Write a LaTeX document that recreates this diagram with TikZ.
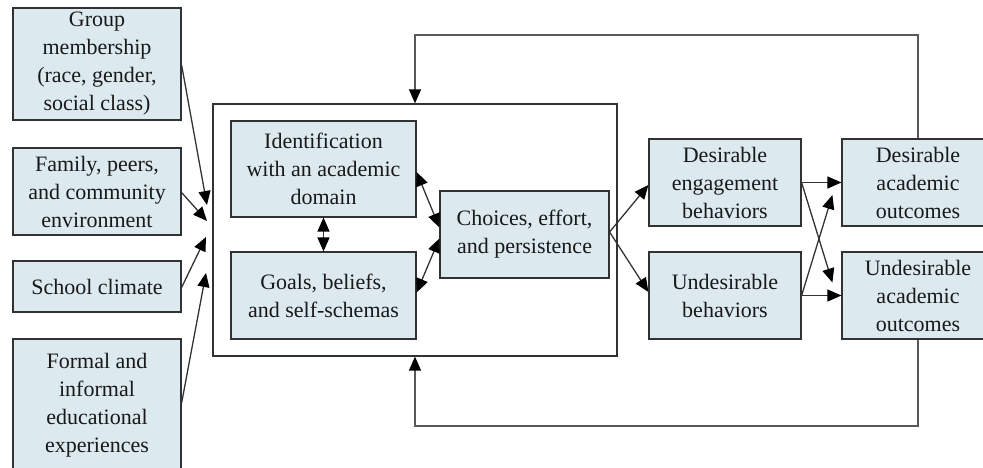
\documentclass[tikz,border=0pt]{standalone}
\usepackage{fontspec}
\setmainfont{Liberation Serif}
\usetikzlibrary{arrows.meta,calc}
\definecolor{boxfill}{RGB}{220,233,239}
\definecolor{boxline}{RGB}{50,50,50}
\tikzset{headtip/.tip={Triangle[length=14pt,width=12pt,color=black]}}
\begin{document}
\begin{tikzpicture}[x=1pt,y=-1pt,
  box/.style={draw=boxline, fill=boxfill, line width=1.2pt, inner sep=0pt, align=center, text=black!90, font=\fontsize{22}{28}\selectfont},
  frame/.style={draw=boxline, line width=1.2pt, inner sep=0pt},
  tip/.style={-headtip},
  arr/.style={line width=1.3pt, draw=black!80, tip},
  darr/.style={line width=1.3pt, draw=black!80, headtip-headtip},
  fb/.style={line width=1.3pt, draw=black!65}]
\useasboundingbox (0,0) rectangle (983,467);
\clip (0,0) rectangle (983,467);

% left boxes
\node[box, minimum width=168pt, minimum height=112pt] (grp) at (97,64) {Group\\membership\\(race, gender,\\social class)};
\node[box, minimum width=168pt, minimum height=87pt] (fam) at (97,191.5) {Family, peers,\\and community\\environment};
\node[box, minimum width=168pt, minimum height=51pt] (sch) at (97,286.5) {School climate};
\node[box, minimum width=168pt, minimum height=132pt] (frm) at (97,405) {Formal and\\informal\\educational\\experiences};

% big frame
\node[frame, minimum width=404pt, minimum height=252pt] (big) at (415,230) {};

\node[box, minimum width=185pt, minimum height=96pt] (idn) at (323.5,169) {Identification\\with an academic\\domain};
\node[box, minimum width=185pt, minimum height=87pt] (gol) at (323.5,295.5) {Goals, beliefs,\\and self-schemas};
\node[box, minimum width=169pt, minimum height=87pt] (cho) at (524.5,234.5) {Choices, effort,\\and persistence};

% right boxes
\node[box, minimum width=152pt, minimum height=87pt] (deb) at (725,182.5) {Desirable\\engagement\\behaviors};
\node[box, minimum width=152pt, minimum height=87pt] (udb) at (725,295.5) {Undesirable\\behaviors};
\node[box, minimum width=152pt, minimum height=87pt] (dao) at (918,182.5) {Desirable\\academic\\outcomes};
\node[box, minimum width=152pt, minimum height=87pt] (uao) at (918,295.5) {Undesirable\\academic\\outcomes};

% converging arrows on the left
\coordinate (t1) at (207,205);
\coordinate (t2) at (207,221);
\coordinate (t3) at (206,237);
\coordinate (t4) at (206,273);
\draw[arr] ($(grp.east)+(0,1)$) -- (t1);
\draw[arr] ($(fam.east)+(0,1)$) -- (t2);
\draw[arr] ($(sch.east)+(0,1)$) -- (t3);
\draw[arr] ($(frm.east)+(0,-2)$) -- (t4);

% inside the frame
\draw[darr] (idn.south) -- (gol.north);
\draw[darr] ($(idn.east)+(0,3)$) -- ($(cho.west)+(0,-7)$);
\draw[darr] ($(gol.east)+(0,-3)$) -- ($(cho.west)+(0,4)$);

% to behaviours
\coordinate (cs) at ($(cho.east)+(0,-2.5)$);
\draw[arr] (cs) -- ($(deb.west)+(0,2.5)$);
\draw[arr] (cs) -- ($(udb.west)+(0,-3.5)$);

% to outcomes
\draw[arr] (deb.east) -- (deb.east -| dao.west);
\draw[arr] (udb.east) -- (udb.east -| uao.west);
\coordinate (x1) at ($(uao.west)+(-9,-13)$);
\coordinate (x2) at ($(dao.west)+(-9,12.5)$);
\draw[arr] (deb.east) -- (x1);
\draw[arr] (udb.east) -- (x2);

% feedback loops
\coordinate (ft) at (918,35);
\coordinate (fb) at (918,426);
\draw[fb, tip] (dao.north) -- (ft) -| (big.north);
\draw[fb, tip] (uao.south) -- (fb) -| (big.south);
\end{tikzpicture}
\end{document}
